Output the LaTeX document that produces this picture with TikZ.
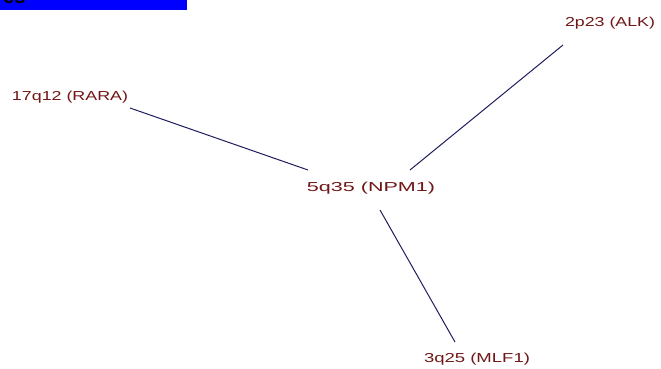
\documentclass[tikz,border=0pt]{standalone}
\usepackage{fontspec}
\usepackage{graphicx}
\setmainfont{Liberation Sans}
\definecolor{lbl}{RGB}{112,22,22}
\definecolor{edge}{RGB}{30,30,95}
\definecolor{barblue}{RGB}{0,0,255}
\newcommand{\lbltext}[2]{\resizebox{#1}{\height}{#2}}
\begin{document}
\begin{tikzpicture}[x=1pt,y=-1pt,
  lblnode/.style={inner sep=0pt,text=lbl,font=\fontsize{13}{13}\selectfont},
  link/.style={draw=edge,line width=1pt}]
\useasboundingbox (0,0) rectangle (661,369);
\fill[white] (0,0) rectangle (661,369);
% top bar
\fill[barblue] (0,0) rectangle (187,10);
\begin{scope}
\clip (0,0) rectangle (187,10);
\node[anchor=base west,inner sep=0pt,font=\bfseries\fontsize{20}{20}\selectfont,text=black] (bartext) at (3,4) {es};
\end{scope}
% labels
\node[lblnode] (rara) at (70,97) {\lbltext{116pt}{17q12 (RARA)}};
\node[lblnode] (alk) at (610,23) {\lbltext{90pt}{2p23 (ALK)}};
\node[lblnode] (npm) at (371,188) {\lbltext{128pt}{5q35 (NPM1)}};
\node[lblnode] (mlf) at (477,359) {\lbltext{106pt}{3q25 (MLF1)}};
% connector ends
\coordinate (raraE) at (130,108);
\coordinate (npmW) at (308,170);
\coordinate (npmN) at (410,170);
\coordinate (alkE) at (563,45);
\coordinate (npmS) at (380,210);
\coordinate (mlfE) at (455,342);
\draw[link] (raraE) -- (npmW);
\draw[link] (npmN) -- (alkE);
\draw[link] (npmS) -- (mlfE);
\end{tikzpicture}
\end{document}
